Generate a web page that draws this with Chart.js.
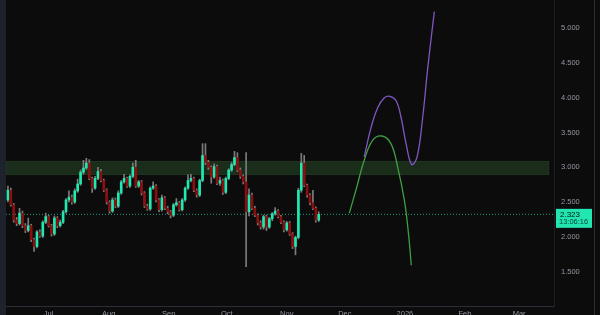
<!DOCTYPE html>
<html>
<head>
<meta charset="utf-8">
<script src="https://cdn.jsdelivr.net/npm/chart.js@4.4.1/dist/chart.umd.min.js"></script>
<style>
  body { margin: 0; background: #0c0c0d; }
  #wrap { width: 600px; height: 315px; }
</style>
</head>
<body>
<div id="wrap"><canvas id="chart" width="600" height="315"></canvas></div>
<script>
// x axis is in days counted from Jul 1
const monthTicks = [0, 31, 62, 92, 123, 153, 184, 215, 243];
const monthLabels = ["Jul", "Aug", "Sep", "Oct", "Nov", "Dec", "2026", "Feb", "Mar"];
const priceTicks = [1.5, 2, 2.5, 3, 3.5, 4, 4.5, 5];

const firstDay = -21;
const dayStep = 1.5;

const opens = [
  2.53, 2.67, 2.46, 2.24, 2.19, 2.34, 2.16, 2.09, 2.16, 1.96,
  1.86, 2.07, 2.01, 2.21, 2.29, 2.16, 2.04, 2.27, 2.16, 2.21,
  2.36, 2.53, 2.57, 2.50, 2.66, 2.76, 2.93, 2.99, 3.06, 2.84,
  2.70, 2.84, 2.94, 2.81, 2.67, 2.50, 2.37, 2.53, 2.44, 2.63,
  2.79, 2.84, 2.73, 2.87, 3.00, 2.73, 2.79, 2.63, 2.44, 2.40,
  2.70, 2.73, 2.53, 2.39, 2.56, 2.41, 2.36, 2.31, 2.46, 2.49,
  2.39, 2.53, 2.70, 2.81, 2.84, 2.67, 2.60, 2.81, 3.17, 3.07,
  3.00, 2.86, 3.01, 2.77, 2.81, 2.64, 2.84, 2.96, 3.04, 3.14,
  2.96, 2.87, 2.79, 2.36, 2.60, 2.41, 2.31, 2.20, 2.14, 2.29,
  2.14, 2.26, 2.33, 2.37, 2.29, 2.21, 2.10, 2.20, 2.04, 1.86,
  1.99, 2.67, 3.06, 2.74, 2.60, 2.49, 2.41, 2.24
];
const closes = [
  2.67, 2.46, 2.24, 2.19, 2.34, 2.16, 2.09, 2.16, 1.96, 1.86,
  2.07, 2.01, 2.21, 2.29, 2.16, 2.04, 2.27, 2.16, 2.21, 2.36,
  2.53, 2.57, 2.50, 2.66, 2.76, 2.93, 2.99, 3.06, 2.84, 2.70,
  2.84, 2.94, 2.81, 2.67, 2.50, 2.37, 2.53, 2.44, 2.63, 2.79,
  2.84, 2.73, 2.87, 3.00, 2.73, 2.79, 2.63, 2.44, 2.40, 2.70,
  2.73, 2.53, 2.39, 2.56, 2.41, 2.36, 2.31, 2.46, 2.49, 2.39,
  2.53, 2.70, 2.81, 2.84, 2.67, 2.60, 2.81, 3.17, 3.07, 3.00,
  2.86, 3.01, 2.77, 2.81, 2.64, 2.84, 2.96, 3.04, 3.14, 2.96,
  2.87, 2.79, 2.36, 2.60, 2.41, 2.31, 2.20, 2.14, 2.29, 2.14,
  2.26, 2.33, 2.37, 2.29, 2.21, 2.10, 2.20, 2.04, 1.86, 1.99,
  2.67, 3.06, 2.74, 2.60, 2.49, 2.41, 2.24, 2.323
];
const highs = [
  2.73, 2.70, 2.48, 2.28, 2.41, 2.37, 2.19, 2.27, 2.18, 1.98,
  2.09, 2.10, 2.23, 2.34, 2.31, 2.18, 2.30, 2.29, 2.24, 2.38,
  2.55, 2.66, 2.60, 2.69, 2.83, 2.96, 3.10, 3.13, 3.11, 2.86,
  2.87, 3.00, 2.97, 2.83, 2.69, 2.52, 2.56, 2.56, 2.66, 2.81,
  2.90, 2.86, 2.89, 3.06, 3.10, 2.81, 2.81, 2.65, 2.47, 2.72,
  2.79, 2.75, 2.55, 2.60, 2.58, 2.44, 2.38, 2.48, 2.55, 2.51,
  2.55, 2.72, 2.89, 2.90, 2.86, 2.69, 2.83, 3.34, 3.34, 3.10,
  3.02, 3.05, 3.03, 2.86, 2.83, 2.86, 2.98, 3.07, 3.23, 3.21,
  2.99, 2.89, 3.21, 2.69, 2.63, 2.44, 2.33, 2.23, 2.31, 2.31,
  2.28, 2.35, 2.42, 2.39, 2.31, 2.23, 2.22, 2.22, 2.06, 2.01,
  2.70, 3.20, 3.17, 2.76, 2.62, 2.67, 2.43, 2.36
];
const lows = [
  2.50, 2.44, 2.21, 2.16, 2.17, 2.13, 2.06, 2.07, 1.93, 1.79,
  1.84, 1.99, 1.99, 2.19, 2.14, 2.01, 2.02, 2.13, 2.14, 2.19,
  2.34, 2.50, 2.47, 2.48, 2.64, 2.74, 2.90, 2.97, 2.82, 2.64,
  2.68, 2.82, 2.79, 2.65, 2.47, 2.34, 2.35, 2.42, 2.42, 2.61,
  2.77, 2.71, 2.71, 2.85, 2.71, 2.71, 2.60, 2.42, 2.38, 2.38,
  2.68, 2.50, 2.36, 2.37, 2.39, 2.33, 2.27, 2.29, 2.44, 2.37,
  2.37, 2.51, 2.68, 2.79, 2.65, 2.57, 2.58, 2.79, 3.04, 2.97,
  2.77, 2.84, 2.75, 2.74, 2.61, 2.62, 2.82, 2.94, 3.02, 2.94,
  2.84, 2.76, 1.57, 2.30, 2.39, 2.29, 2.17, 2.11, 2.11, 2.09,
  2.12, 2.23, 2.31, 2.27, 2.19, 2.07, 2.08, 2.02, 1.83, 1.74,
  1.97, 2.64, 2.72, 2.57, 2.46, 2.39, 2.21, 2.22
];

// projected paths drawn on the chart
const purpleDays = [163.0, 166.5, 170.0, 173.4, 176.3, 179.4, 182.0, 184.6, 187.5, 190.3, 193.2, 195.8, 199.2];
const purpleValues = [3.15, 3.57, 3.86, 4.00, 4.02, 3.96, 3.72, 3.34, 3.04, 3.15, 3.72, 4.43, 5.24];
const greenDays = [155.3, 158.7, 163.0, 167.4, 172.2, 176.8, 180.3, 183.7, 185.8, 187.3];
const greenValues = [2.34, 2.67, 3.10, 3.39, 3.45, 3.34, 3.00, 2.53, 2.06, 1.59];

const zoneTop = 3.09;
const zoneBottom = 2.89;
const zoneEndDay = 258.5;
const lastPrice = 2.323;
const countdown = "13:06:16";

const upColor = "#1de9b0";
const downColor = "#8c0f0f";
const wickColor = "#7c7c7c";

const bodies = [];
const wicks = [];
const bodyColors = [];
for (let i = 0; i < closes.length; i++) {
  const day = firstDay + i * dayStep;
  bodies.push({ x: day, y: [opens[i], closes[i]] });
  wicks.push({ x: day, y: [lows[i], highs[i]] });
  bodyColors.push(closes[i] >= opens[i] ? upColor : downColor);
}

const backdrop = {
  id: "backdrop",
  beforeDraw(chart) {
    const c = chart.ctx;
    c.save();
    c.fillStyle = "#0c0c0d";
    c.fillRect(0, 0, chart.width, chart.height);
    c.fillStyle = "#1e222b";
    c.fillRect(0, 0, chart.chartArea.left, chart.height);
    c.restore();
  },
  beforeDatasetsDraw(chart) {
    const c = chart.ctx;
    const x = chart.scales.x;
    const y = chart.scales.y;
    const left = chart.chartArea.left;
    const right = x.getPixelForValue(zoneEndDay);
    const top = y.getPixelForValue(zoneTop);
    const bottom = y.getPixelForValue(zoneBottom);
    c.save();
    c.fillStyle = "#1a2c1a";
    c.fillRect(left, top, right - left, bottom - top);
    c.strokeStyle = "#21361f";
    c.lineWidth = 1;
    c.strokeRect(left + 0.5, top + 0.5, right - left - 1, bottom - top - 1);
    c.restore();
  },
  afterDraw(chart) {
    const c = chart.ctx;
    const y = chart.scales.y.getPixelForValue(lastPrice);
    c.save();
    c.fillStyle = "#22e6b0";
    c.fillRect(556, y - 5.5, 36, 19);
    c.fillStyle = "#05110d";
    c.font = "8px 'Liberation Sans'";
    c.textBaseline = "middle";
    c.fillText(lastPrice.toFixed(3), 560, y);
    c.fillStyle = "#0b3f33";
    c.font = "7.5px 'Liberation Sans'";
    c.fillText(countdown, 559, y + 8);
    c.strokeStyle = "#2a2e39";
    c.beginPath();
    c.moveTo(594.5, 0);
    c.lineTo(594.5, chart.height);
    c.stroke();
    c.restore();
  }
};

new Chart(document.getElementById("chart"), {
  type: "bar",
  data: {
    datasets: [
      {
        label: "bodies",
        data: bodies,
        backgroundColor: bodyColors,
        barThickness: 2,
        grouped: false,
        order: 1
      },
      {
        label: "wicks",
        data: wicks,
        backgroundColor: wickColor,
        barThickness: 1,
        grouped: false,
        order: 2
      },
      {
        type: "line",
        label: "last",
        data: [{ x: -22, y: lastPrice }, { x: 261, y: lastPrice }],
        borderColor: "#1f9f84",
        borderWidth: 1,
        borderDash: [1, 2],
        pointRadius: 0,
        order: 3
      },
      {
        type: "line",
        label: "purple",
        data: purpleDays.map((d, i) => ({ x: d, y: purpleValues[i] })),
        borderColor: "#7e57c2",
        borderWidth: 1.3,
        tension: 0.4,
        pointRadius: 0,
        order: 0
      },
      {
        type: "line",
        label: "green",
        data: greenDays.map((d, i) => ({ x: d, y: greenValues[i] })),
        borderColor: "#3f9e42",
        borderWidth: 1.3,
        tension: 0.4,
        pointRadius: 0,
        order: 0
      }
    ]
  },
  plugins: [backdrop],
  options: {
    responsive: false,
    animation: false,
    layout: { padding: { left: 6, top: 0, right: 0, bottom: 0 } },
    plugins: {
      legend: { display: false },
      tooltip: { enabled: false }
    },
    scales: {
      x: {
        type: "linear",
        min: -22,
        max: 261,
        offset: false,
        grid: { display: false, drawTicks: false },
        border: { color: "#2a2e39" },
        afterFit(scale) {
          scale.height = 9;
          scale.paddingLeft = 0;
          scale.paddingRight = 0;
        },
        afterBuildTicks(scale) {
          scale.ticks = monthTicks.map(v => ({ value: v }));
        },
        ticks: {
          color: "#9598a1",
          font: { size: 7.5, family: "Liberation Sans" },
          padding: 3.5,
          maxRotation: 0,
          autoSkip: false,
          callback(value) {
            const k = monthTicks.indexOf(value);
            return k >= 0 ? monthLabels[k] : "";
          }
        }
      },
      y: {
        position: "right",
        min: 1.004,
        max: 5.407,
        grid: { display: false, drawTicks: false },
        border: { color: "#1b1e25" },
        afterFit(scale) {
          scale.width = 46;
          scale.paddingTop = 0;
          scale.paddingBottom = 0;
        },
        afterBuildTicks(scale) {
          scale.ticks = priceTicks.map(v => ({ value: v }));
        },
        ticks: {
          color: "#9598a1",
          font: { size: 7.5, family: "Liberation Sans" },
          padding: 7,
          callback(value) { return value.toFixed(3); }
        }
      }
    }
  }
});
</script>
</body>
</html>
